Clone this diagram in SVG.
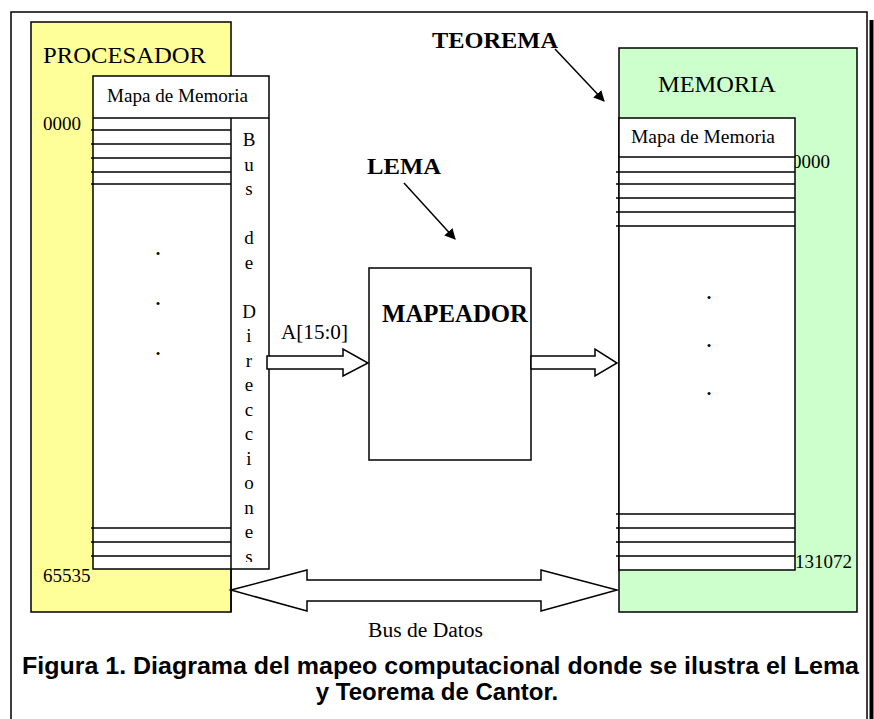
<svg xmlns="http://www.w3.org/2000/svg" width="874" height="719" viewBox="0 0 874 719">
<style>
.ln{stroke:#000;stroke-width:1.5;fill:none}
.bx{stroke:#000;stroke-width:1.5}
.s{font-family:"Liberation Serif","Times New Roman",serif;fill:#000}
.b{font-weight:bold}
.cap{font-family:"Liberation Sans",Arial,sans-serif;font-weight:bold;font-size:24px;fill:#000}
</style>
<defs>
<marker id="ah" viewBox="0 0 10 10" refX="9" refY="5" markerWidth="11" markerHeight="11" markerUnits="userSpaceOnUse" orient="auto">
<path d="M0,0 L10,5 L0,10 z" fill="#000"/>
</marker>
<clipPath id="colclip"><rect x="232" y="119" width="36" height="443"/></clipPath>
</defs>
<rect width="874" height="719" fill="#fff"/>
<g id="frame">
<rect x="11" y="12" width="856" height="710" class="ln"/>
<line x1="871.5" y1="20" x2="871.5" y2="719" stroke="#000" stroke-width="4"/>
</g>
<g id="procesador">
<rect x="31" y="22" width="200" height="590" fill="#FFFF99" class="bx"/>
<text x="43" y="63" class="s" font-size="24" textLength="163" lengthAdjust="spacingAndGlyphs">PROCESADOR</text>
<text x="43" y="130" class="s" font-size="19">0000</text>
<text x="43" y="582" class="s" font-size="19">65535</text>
<rect x="93" y="76" width="176" height="493" fill="#fff" class="bx"/>
<line x1="93" y1="118" x2="269" y2="118" class="ln"/>
<line x1="231" y1="118" x2="231" y2="612" class="ln"/>
<text x="107" y="102" class="s" font-size="19" textLength="141" lengthAdjust="spacingAndGlyphs">Mapa de Memoria</text>
<g class="ln">
<line x1="91" y1="130" x2="231" y2="130"/>
<line x1="91" y1="144" x2="231" y2="144"/>
<line x1="91" y1="158" x2="231" y2="158"/>
<line x1="91" y1="172" x2="231" y2="172"/>
<line x1="91" y1="184" x2="231" y2="184"/>
<line x1="91" y1="528" x2="231" y2="528"/>
<line x1="91" y1="542" x2="231" y2="542"/>
<line x1="91" y1="556" x2="231" y2="556"/>
</g>
<text class="s" font-size="26" text-anchor="middle"><tspan x="158" y="255">.</tspan><tspan x="158" y="305">.</tspan><tspan x="158" y="355">.</tspan></text>
<text class="s" font-size="19" text-anchor="middle" clip-path="url(#colclip)"><tspan x="249" y="146">B</tspan><tspan x="249" dy="24.5">u</tspan><tspan x="249" dy="24.5">s</tspan><tspan x="249" dy="49">d</tspan><tspan x="249" dy="24.5">e</tspan><tspan x="249" dy="49">D</tspan><tspan x="249" dy="24.5">i</tspan><tspan x="249" dy="24.5">r</tspan><tspan x="249" dy="24.5">e</tspan><tspan x="249" dy="24.5">c</tspan><tspan x="249" dy="24.5">c</tspan><tspan x="249" dy="24.5">i</tspan><tspan x="249" dy="24.5">o</tspan><tspan x="249" dy="24.5">n</tspan><tspan x="249" dy="24.5">e</tspan><tspan x="249" dy="24.5">s</tspan></text>
</g>
<g id="mapeador">
<rect x="369" y="268" width="162" height="192" fill="#fff" class="bx"/>
<text x="382" y="322" class="s b" font-size="25" textLength="146" lengthAdjust="spacingAndGlyphs">MAPEADOR</text>
</g>
<g id="memoria">
<rect x="619" y="48" width="238" height="564" fill="#CCFFCC" class="bx"/>
<text x="658" y="92" class="s" font-size="24" textLength="118" lengthAdjust="spacingAndGlyphs">MEMORIA</text>
<text x="792" y="168" class="s" font-size="19">0000</text>
<text x="795" y="568" class="s" font-size="19">131072</text>
<rect x="619" y="118" width="176" height="452" fill="#fff" class="bx"/>
<line x1="619" y1="157" x2="795" y2="157" class="ln"/>
<text x="631" y="143" class="s" font-size="19" textLength="144" lengthAdjust="spacingAndGlyphs">Mapa de Memoria</text>
<g class="ln">
<line x1="616" y1="172" x2="795" y2="172"/>
<line x1="616" y1="184" x2="795" y2="184"/>
<line x1="616" y1="198" x2="795" y2="198"/>
<line x1="616" y1="212" x2="795" y2="212"/>
<line x1="616" y1="226" x2="795" y2="226"/>
<line x1="616" y1="514" x2="795" y2="514"/>
<line x1="616" y1="528" x2="795" y2="528"/>
<line x1="616" y1="542" x2="795" y2="542"/>
<line x1="616" y1="556" x2="795" y2="556"/>
</g>
<text class="s" font-size="26" text-anchor="middle"><tspan x="709" y="299">.</tspan><tspan x="709" y="347">.</tspan><tspan x="709" y="395">.</tspan></text>
</g>
<g id="lema">
<text x="367" y="174" class="s b" font-size="24" textLength="74" lengthAdjust="spacingAndGlyphs">LEMA</text>
</g>
<g id="teorema">
<text x="432" y="48" class="s b" font-size="23" textLength="126" lengthAdjust="spacingAndGlyphs">TEOREMA</text>
</g>
<g id="connectors">
<line x1="404" y1="183" x2="455" y2="239" stroke="#000" stroke-width="1.5" marker-end="url(#ah)"/>
<line x1="555" y1="49" x2="604" y2="101" stroke="#000" stroke-width="1.5" marker-end="url(#ah)"/>
<polygon points="267,356 343,356 343,349 368,363 343,376 343,369 267,369" fill="#fff" class="bx"/>
<text x="281" y="339" class="s" font-size="21" textLength="67" lengthAdjust="spacingAndGlyphs">A[15:0]</text>
<polygon points="531,356 595,356 595,349 617,363 595,376 595,369 531,369" fill="#fff" class="bx"/>
<polygon points="231,590 307,570 307,580 541,580 541,570 617,590 541,611 541,601 307,601 307,611" fill="#fff" class="bx"/>
<text x="368" y="637" class="s" font-size="20" textLength="115" lengthAdjust="spacingAndGlyphs">Bus de Datos</text>
</g>
<g id="caption">
<text x="22" y="674" class="cap" textLength="837" lengthAdjust="spacingAndGlyphs">Figura 1. Diagrama del mapeo computacional donde se ilustra el Lema</text>
<text x="437" y="700" class="cap" text-anchor="middle">y Teorema de Cantor.</text>
</g>
</svg>
